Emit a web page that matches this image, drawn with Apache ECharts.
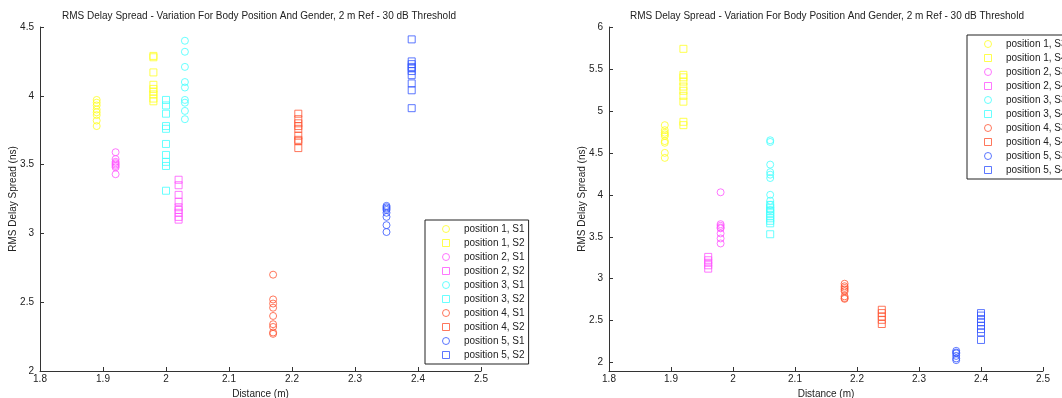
<!DOCTYPE html>
<html>
<head>
<meta charset="utf-8">
<script src="https://cdn.jsdelivr.net/npm/echarts@6/dist/echarts.min.js"></script>
<style>
  html, body { margin: 0; padding: 0; background: #fff; }
  #chart { width: 1062px; height: 398px; }
</style>
</head>
<body>
<div id="chart"></div>
<script>
const titleText = 'RMS Delay Spread - Variation For Body Position And Gender, 2 m Ref - 30 dB Threshold'
const leftYTicks = [2, 2.5, 3, 3.5, 4, 4.5]
const rightYTicks = [2, 2.5, 3, 3.5, 4, 4.5, 5, 5.5, 6]

const positionColors = ['#ffff22', '#ff55ff', '#44ffff', '#ff5533', '#3355ff']

// left panel: S1 / S2
const leftNames = ['position 1, S1', 'position 1, S2', 'position 2, S1', 'position 2, S2', 'position 3, S1',
  'position 3, S2', 'position 4, S1', 'position 4, S2', 'position 5, S1', 'position 5, S2']
const leftDist = [1.89, 1.98, 1.92, 2.02, 2.03, 2.0, 2.17, 2.21, 2.35, 2.39]
const leftP1S1 = [3.97, 3.95, 3.93, 3.90, 3.88, 3.86, 3.82, 3.78]
const leftP1S2 = [4.29, 4.28, 4.17, 4.08, 4.05, 4.03, 4.01, 3.98, 3.96]
const leftP2S1 = [3.59, 3.54, 3.52, 3.51, 3.50, 3.49, 3.48, 3.43]
const leftP2S2 = [3.39, 3.35, 3.28, 3.23, 3.19, 3.17, 3.15, 3.12, 3.10]
const leftP3S1 = [4.40, 4.32, 4.21, 4.10, 4.06, 3.97, 3.95, 3.89, 3.83]
const leftP3S2 = [3.97, 3.93, 3.87, 3.78, 3.76, 3.65, 3.57, 3.52, 3.49, 3.31]
const leftP4S1 = [2.70, 2.52, 2.49, 2.46, 2.40, 2.34, 2.32, 2.28, 2.27]
const leftP4S2 = [3.87, 3.83, 3.80, 3.78, 3.76, 3.71, 3.68, 3.67, 3.62]
const leftP5S1 = [3.20, 3.19, 3.18, 3.17, 3.15, 3.12, 3.06, 3.01]
const leftP5S2 = [4.41, 4.25, 4.23, 4.21, 4.20, 4.18, 4.15, 4.09, 4.04, 3.91]
const leftValues = [leftP1S1, leftP1S2, leftP2S1, leftP2S2, leftP3S1, leftP3S2, leftP4S1, leftP4S2, leftP5S1, leftP5S2]

// right panel: S3 / S4
const rightNames = ['position 1, S3', 'position 1, S4', 'position 2, S3', 'position 2, S4', 'position 3, S3',
  'position 3, S4', 'position 4, S3', 'position 4, S4', 'position 5, S3', 'position 5, S4']
const rightDist = [1.89, 1.92, 1.98, 1.96, 2.06, 2.06, 2.18, 2.24, 2.36, 2.40]
const rightP1S3 = [4.83, 4.77, 4.74, 4.72, 4.70, 4.64, 4.62, 4.50, 4.44]
const rightP1S4 = [5.74, 5.43, 5.40, 5.35, 5.29, 5.24, 5.18, 5.11, 4.87, 4.83]
const rightP2S3 = [4.03, 3.65, 3.63, 3.61, 3.60, 3.54, 3.48, 3.42]
const rightP2S4 = [3.26, 3.22, 3.19, 3.16, 3.12]
const rightP3S3 = [4.65, 4.63, 4.36, 4.27, 4.24, 4.20, 4.00, 3.93, 3.88, 3.82]
const rightP3S4 = [3.88, 3.84, 3.81, 3.78, 3.75, 3.72, 3.69, 3.66, 3.53]
const rightP4S3 = [2.94, 2.91, 2.89, 2.87, 2.85, 2.79, 2.77, 2.76]
const rightP4S4 = [2.63, 2.59, 2.55, 2.51, 2.46]
const rightP5S3 = [2.14, 2.12, 2.11, 2.08, 2.05, 2.03]
const rightP5S4 = [2.59, 2.56, 2.52, 2.48, 2.44, 2.40, 2.36, 2.27]
const rightValues = [rightP1S3, rightP1S4, rightP2S3, rightP2S4, rightP3S3, rightP3S4, rightP4S3, rightP4S4, rightP5S3, rightP5S4]

const font = 'Liberation Sans, Arial, sans-serif'
const textColor = '#222'
const axisColor = '#333'
const squarePath = 'path://M0,0L10,0L10,10L0,10Z'

const symbolFor = (i) => (i % 2 === 0 ? 'circle' : 'rect')
const colorFor = (i) => positionColors[Math.floor(i / 2)]

function makeSeries(names, dist, values, axisIndex) {
  return names.map((name, i) => ({
    name,
    type: 'scatter',
    xAxisIndex: axisIndex,
    yAxisIndex: axisIndex,
    symbol: symbolFor(i),
    symbolSize: 7,
    itemStyle: { color: 'rgba(0,0,0,0)', borderColor: colorFor(i), borderWidth: 1 },
    emphasis: { disabled: true },
    data: values[i].map((v) => [dist[i], v]),
  }))
}

function xAxis(gridIndex) {
  return {
    type: 'value',
    gridIndex,
    min: 1.8,
    max: 2.5,
    interval: 0.1,
    name: 'Distance (m)',
    nameLocation: 'middle',
    nameGap: 15,
    nameTextStyle: { fontFamily: font, fontSize: 10, color: textColor },
    axisLine: { lineStyle: { color: axisColor, width: 1 } },
    axisTick: { inside: true, length: 4, lineStyle: { color: axisColor } },
    axisLabel: { fontFamily: font, fontSize: 10, color: textColor, margin: 3,
      formatter: (v) => String(Math.round(v * 10) / 10) },
    splitLine: { show: false },
  }
}

function yAxis(gridIndex, min, max, ticks) {
  return {
    type: 'value',
    gridIndex,
    min,
    max,
    name: 'RMS Delay Spread (ns)',
    nameLocation: 'middle',
    nameRotate: 90,
    nameGap: 22,
    nameMoveOverlap: false,
    nameTextStyle: { fontFamily: font, fontSize: 10, color: textColor },
    axisLine: { show: true, lineStyle: { color: axisColor, width: 1 } },
    axisTick: { show: true, inside: true, length: 4, customValues: ticks, lineStyle: { color: axisColor } },
    axisLabel: { fontFamily: font, fontSize: 10, color: textColor, margin: 6, customValues: ticks },
    splitLine: { show: false },
  }
}

function legend(names, left, top) {
  return {
    left,
    top,
    orient: 'vertical',
    data: names.map((n, i) => ({
      name: n,
      icon: i % 2 === 0 ? 'circle' : squarePath,
      itemStyle: { color: 'rgba(0,0,0,0)', borderColor: colorFor(i), borderWidth: 1 },
    })),
    itemWidth: 26,
    itemHeight: 7,
    itemGap: 2,
    padding: [3, 4, 3, 17],
    borderColor: '#222',
    borderWidth: 1,
    backgroundColor: '#fff',
    selectedMode: false,
    textStyle: { fontFamily: font, fontSize: 10, color: textColor, lineHeight: 12 },
  }
}

const chart = echarts.init(document.getElementById('chart'))

chart.setOption({
  animation: false,
  backgroundColor: '#fff',
  title: [
    { text: titleText, left: 259, top: 11, textAlign: 'center', padding: 0,
      textStyle: { fontFamily: font, fontSize: 10, fontWeight: 'normal', color: textColor } },
    { text: titleText, left: 827, top: 11, textAlign: 'center', padding: 0,
      textStyle: { fontFamily: font, fontSize: 10, fontWeight: 'normal', color: textColor } },
  ],
  grid: [
    { left: 40, top: 27, width: 441, height: 344, outerBoundsMode: 'none' },
    { left: 609, top: 27, width: 434, height: 344, outerBoundsMode: 'none' },
  ],
  xAxis: [xAxis(0), xAxis(1)],
  yAxis: [yAxis(0, 2, 4.5, leftYTicks), yAxis(1, 1.9, 6, rightYTicks)],
  legend: [legend(leftNames, 425, 220), legend(rightNames, 967, 35)],
  series: [
    ...makeSeries(leftNames, leftDist, leftValues, 0),
    ...makeSeries(rightNames, rightDist, rightValues, 1),
  ],
})
</script>
</body>
</html>
